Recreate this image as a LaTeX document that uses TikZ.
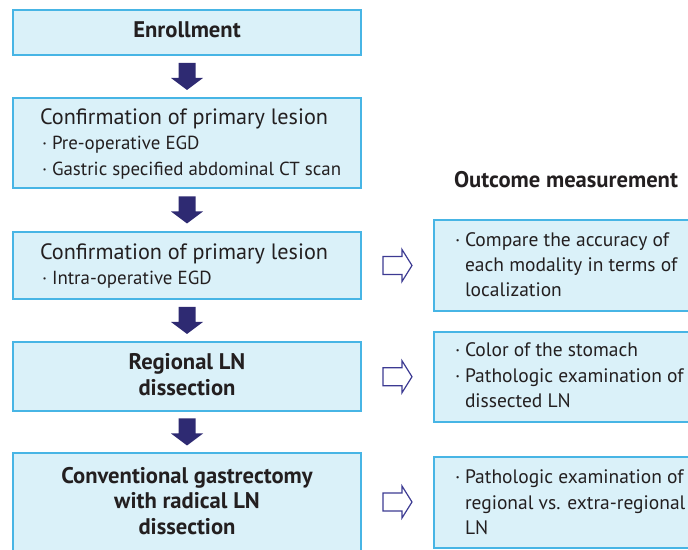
\documentclass[tikz,border=0pt]{standalone}
\usepackage{fontspec}
\setmainfont{PT Sans}
\usetikzlibrary{calc}
\definecolor{boxfill}{HTML}{DAF1F9}
\definecolor{boxline}{HTML}{47B5E5}
\definecolor{darkarr}{HTML}{2E2A72}
\definecolor{hollarr}{HTML}{3C3A92}
\definecolor{txt}{HTML}{231F20}
\tikzset{
  box/.style={draw=boxline, fill=boxfill, line width=1.4pt, inner sep=0pt, outer sep=0pt, anchor=north west},
  lbl/.style={inner sep=0pt, outer sep=0pt, text=txt},
  head/.style={lbl, anchor=base west, font=\fontsize{22.2}{26}\selectfont},
  sub/.style={lbl, anchor=base west, font=\fontsize{18.9}{22}\selectfont},
  rtxt/.style={lbl, anchor=base west, font=\fontsize{19.5}{23}\selectfont},
  btxt/.style={lbl, anchor=base, font=\fontsize{22.6}{26}\selectfont\bfseries},
  pics/downarr/.style={code={
    \fill[darkarr] (-8.5,13.5) -- (8.5,13.5) -- (8.5,-1.5) -- (16,-1.5) -- (0,-13.5) -- (-16,-1.5) -- (-8.5,-1.5) -- cycle;}},
  pics/hollowarr/.style={code={
    \draw[hollarr, line width=1.2pt, line join=miter] (-14.5,9) -- (4.5,9) -- (4.5,16) -- (14.5,0) -- (4.5,-16) -- (4.5,-9) -- (-14.5,-9) -- cycle;}}
}
\begin{document}
\begin{tikzpicture}[x=1pt,y=1pt]
\useasboundingbox (0,0) rectangle (688,549);
% left boxes
\node[box, minimum width=348pt, minimum height=45pt] (b1) at (13,539) {};
\node[box, minimum width=348pt, minimum height=90pt] (b2) at (13,451) {};
\node[box, minimum width=348pt, minimum height=67pt] (b3) at (13,317) {};
\node[box, minimum width=348pt, minimum height=69pt] (b4) at (13,207) {};
\node[box, minimum width=348pt, minimum height=98pt] (b5) at (13,96) {};
% right boxes
\node[box, minimum width=266pt, minimum height=91pt] (r1) at (434,329) {};
\node[box, minimum width=266pt, minimum height=90pt] (r2) at (434,217) {};
\node[box, minimum width=266pt, minimum height=91pt] (r3) at (434,92) {};
% down arrows
\pic at ($(b1.south)!0.5!(b2.north)$) {downarr};
\pic at ($(b2.south)!0.5!(b3.north)$) {downarr};
\pic at ($(b3.south)!0.5!(b4.north)$) {downarr};
\pic at ($(b4.south)!0.5!(b5.north)$) {downarr};
% hollow arrows
\pic at ($(b3.east)!0.5!(r1.west)$) {hollowarr};
\pic at ($(b4.east)!0.5!(r2.west)$) {hollowarr};
\pic at (397.5,47) {hollowarr};
% texts
\node[btxt] (t1) at (187,511) {Enrollment};
\node[head] (t2a) at (40,424) {Confirmation of primary lesion};
\node[sub] (t2b) at (42,399) {·};
\node[sub] (t2c) at (52,399) {Pre-operative EGD};
\node[sub] (t2d) at (42,373) {·};
\node[sub] (t2e) at (52,373) {Gastric specified abdominal CT scan};
\node[head] (t3a) at (40,289) {Confirmation of primary lesion};
\node[sub] (t3b) at (42,264) {·};
\node[sub] (t3c) at (52,264) {Intra-operative EGD};
\node[btxt] (t4a) at (187,179) {Regional LN};
\node[btxt] (t4b) at (187,153) {dissection};
\node[btxt] (t5a) at (187,66) {Conventional gastrectomy};
\node[btxt] (t5b) at (187,41) {with radical LN};
\node[btxt] (t5c) at (187,15) {dissection};
\node[btxt] (oh) at (566,361) {Outcome measurement};
\node[rtxt] (r1a) at (455,302) {·};
\node[rtxt] (r1b) at (465,302) {Compare the accuracy of};
\node[rtxt] (r1c) at (465,277) {each modality in terms of};
\node[rtxt] (r1d) at (465,252) {localization};
\node[rtxt] (r2a) at (455,192) {·};
\node[rtxt] (r2b) at (465,192) {Color of the stomach};
\node[rtxt] (r2c) at (455,166) {·};
\node[rtxt] (r2d) at (465,166) {Pathologic examination of};
\node[rtxt] (r2e) at (465,141) {dissected LN};
\node[rtxt] (r3a) at (455,66) {·};
\node[rtxt] (r3b) at (465,66) {Pathologic examination of};
\node[rtxt] (r3c) at (465,40) {regional vs. extra-regional};
\node[rtxt] (r3d) at (465,15) {LN};
\end{tikzpicture}
\end{document}
